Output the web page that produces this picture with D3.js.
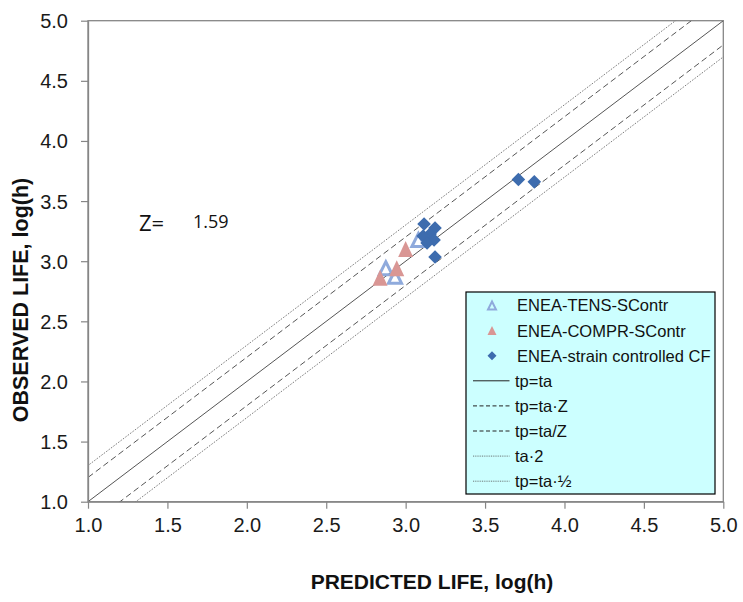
<!DOCTYPE html>
<html>
<head>
<meta charset="utf-8">
<script src="https://cdn.jsdelivr.net/npm/d3@7"></script>
<style>
  html, body { margin: 0; padding: 0; background: #fff; }
  svg { display: block; }
</style>
</head>
<body>
<svg id="chart" width="743" height="602"></svg>
<script>
// ---- data (log10 hours) ----
const tensPred   = [2.875, 2.933, 3.080];
const tensObs    = [2.941, 2.871, 3.176];
const comprPred  = [2.839, 2.944, 3.000];
const comprObs   = [2.863, 2.941, 3.101];
const strainPred = [3.116, 3.185, 3.154, 3.110, 3.179, 3.135, 3.185, 3.710, 3.810];
const strainObs  = [3.309, 3.276, 3.226, 3.209, 3.176, 3.151, 3.035, 3.680, 3.660];

const axisTicks = [1.0, 1.5, 2.0, 2.5, 3.0, 3.5, 4.0, 4.5, 5.0];
const zValue = 1.59;

// reference lines: offset of log(observed) from log(predicted)
const refNames   = ["tp=ta", "tp=ta\u00b7Z", "tp=ta/Z", "ta\u00b72", "tp=ta\u00b7\u00bd"];
const refOffsets = [0, Math.log10(zValue), -Math.log10(zValue), Math.log10(2), -Math.log10(2)];
const refStyles  = ["solid", "dashed", "dashed", "dotted", "dotted"];

const seriesNames = ["ENEA-TENS-SContr", "ENEA-COMPR-SContr", "ENEA-strain controlled CF"];

// ---- layout ----
const svg = d3.select("#chart");
const plotL = 88, plotR = 723.3, plotT = 20.7, plotB = 501.7;
const x = d3.scaleLinear().domain([1, 5]).range([plotL, plotR]);
const y = d3.scaleLinear().domain([1, 5]).range([plotB, plotT]);

const colTens = "#8faadc", colCompr = "#d99694", colStrain = "#3d6cae";
const font = "'Liberation Sans', Arial, sans-serif";

// triangle and diamond paths
function triPath(w, h) {
  return `M0,${-h / 2}L${w / 2},${h / 2}L${-w / 2},${h / 2}Z`;
}
function diamondPath(r) {
  return `M0,${-r}L${r},0L0,${r}L${-r},0Z`;
}
const dashFor = s => s === "dashed" ? "6,3.5" : s === "dotted" ? "1.6,1.4" : null;
const colFor = s => s === "dotted" ? "#6e6e6e" : "#555";

// plot frame
svg.append("rect")
  .attr("x", plotL).attr("y", plotT)
  .attr("width", plotR - plotL).attr("height", plotB - plotT)
  .attr("fill", "#fff").attr("stroke", "#868686").attr("stroke-width", 1.3);

svg.append("clipPath").attr("id", "plotclip")
  .append("rect").attr("x", plotL).attr("y", plotT)
  .attr("width", plotR - plotL).attr("height", plotB - plotT);

// diagonal reference lines
const gLines = svg.append("g").attr("clip-path", "url(#plotclip)");
const line = d3.line().x(d => x(d[0])).y(d => y(d[1]));
refOffsets.forEach((off, i) => {
  gLines.append("path")
    .attr("d", line([[0, off], [6, 6 + off]]))
    .attr("fill", "none")
    .attr("stroke", colFor(refStyles[i]))
    .attr("stroke-width", refStyles[i] === "dotted" ? 0.9 : 1)
    .attr("stroke-dasharray", dashFor(refStyles[i]));
});

// axes
const xAxis = svg.append("g").attr("transform", `translate(0,${plotB})`)
  .call(d3.axisBottom(x).tickValues(axisTicks).tickFormat(d3.format(".1f")).tickSizeOuter(0).tickSizeInner(7).tickPadding(9));
const yAxis = svg.append("g").attr("transform", `translate(${plotL},0)`)
  .call(d3.axisLeft(y).tickValues(axisTicks).tickFormat(d3.format(".1f")).tickSizeOuter(0).tickSizeInner(7).tickPadding(13));
[xAxis, yAxis].forEach(g => {
  g.select(".domain").attr("stroke", "#868686").attr("stroke-width", 1.3);
  g.selectAll(".tick line").attr("stroke", "#868686").attr("stroke-width", 1.2);
  g.selectAll(".tick text").attr("fill", "#1a1a1a")
    .style("font-family", font).style("font-size", "20px");
});
yAxis.selectAll(".tick text").attr("dy", "0.35em");

// data points
const gPts = svg.append("g");
gPts.selectAll(".tens").data(tensPred.map((p, i) => [p, tensObs[i]]))
  .join("path").attr("class", "tens")
  .attr("d", triPath(13, 13))
  .attr("transform", d => `translate(${x(d[0])},${y(d[1])})`)
  .attr("fill", "none").attr("stroke", colTens).attr("stroke-width", 3);
gPts.selectAll(".compr").data(comprPred.map((p, i) => [p, comprObs[i]]))
  .join("path").attr("class", "compr")
  .attr("d", triPath(15, 16))
  .attr("transform", d => `translate(${x(d[0])},${y(d[1])})`)
  .attr("fill", colCompr);
gPts.selectAll(".strain").data(strainPred.map((p, i) => [p, strainObs[i]]))
  .join("path").attr("class", "strain")
  .attr("d", diamondPath(6.8))
  .attr("transform", d => `translate(${x(d[0])},${y(d[1])})`)
  .attr("fill", colStrain);

// Z annotation
svg.append("text").attr("x", 139).attr("y", 231)
  .style("font-family", "'Open Sans', sans-serif").style("font-size", "22px")
  .attr("fill", "#111").text("Z=");
svg.append("text").attr("x", 193).attr("y", 228)
  .style("font-family", "'Open Sans', sans-serif").style("font-size", "18px")
  .attr("fill", "#111").text(zValue.toFixed(2));

// axis titles
svg.append("text").attr("x", 432).attr("y", 589).attr("text-anchor", "middle")
  .style("font-family", font).style("font-size", "21px").style("font-weight", "bold")
  .attr("fill", "#111").text("PREDICTED LIFE, log(h)");
svg.append("text").attr("transform", "translate(28,300) rotate(-90)")
  .attr("text-anchor", "middle")
  .style("font-family", font).style("font-size", "21.5px").style("font-weight", "bold")
  .attr("fill", "#111").text("OBSERVED LIFE, log(h)");

// legend
const lg = svg.append("g");
lg.append("rect").attr("x", 466).attr("y", 292).attr("width", 249).attr("height", 202)
  .attr("fill", "#ccffff").attr("stroke", "#000").attr("stroke-width", 1.2);
const rowY = i => 305.5 + i * 25.1;
const markX = 492, textX = 517;
lg.append("path").attr("d", triPath(8, 8)).attr("transform", `translate(${markX},${rowY(0)})`)
  .attr("fill", "none").attr("stroke", colTens).attr("stroke-width", 2);
lg.append("path").attr("d", triPath(9, 9)).attr("transform", `translate(${markX},${rowY(1)})`)
  .attr("fill", colCompr);
lg.append("path").attr("d", diamondPath(4.5)).attr("transform", `translate(${markX},${rowY(2)})`)
  .attr("fill", colStrain);
seriesNames.forEach((n, i) => {
  lg.append("text").attr("x", textX).attr("y", rowY(i)).attr("dy", "0.36em")
    .style("font-family", font).style("font-size", "16.5px").attr("fill", "#111").text(n);
});
refNames.forEach((n, k) => {
  const i = k + 3;
  lg.append("line").attr("x1", 473).attr("x2", 509.5).attr("y1", rowY(i)).attr("y2", rowY(i))
    .attr("stroke", refStyles[k] === "dotted" ? "#555" : "#222")
    .attr("stroke-width", refStyles[k] === "dotted" ? 0.8 : 1)
    .attr("stroke-dasharray", refStyles[k] === "dashed" ? "4,2.5" : refStyles[k] === "dotted" ? "1,0.8" : null);
  lg.append("text").attr("x", 515).attr("y", rowY(i)).attr("dy", "0.36em")
    .style("font-family", font).style("font-size", "16.5px").attr("fill", "#111").text(n);
});
</script>
</body>
</html>
